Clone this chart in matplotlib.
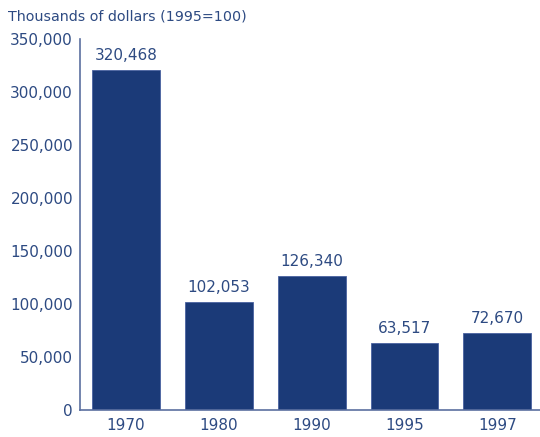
import matplotlib
matplotlib.use("Agg")
import matplotlib.pyplot as plt
from matplotlib.ticker import FuncFormatter

years = ["1970", "1980", "1990", "1995", "1997"]
values = [320468, 102053, 126340, 63517, 72670]
yticks = [0, 50000, 100000, 150000, 200000, 250000, 300000, 350000]

bar_color = "#1b3a78"
text_color = "#2d4a82"
spine_color = "#5b6fa0"

plt.rcParams['font.family'] = ['DejaVu Sans']

fig = plt.figure(figsize=(5.4, 4.37), dpi=100)
ax = fig.add_axes([80/540, 27/437, 460/540, 371/437])

x = list(range(len(years)))
bars = ax.bar(x, values, width=0.73, color=bar_color, edgecolor="#4a62a0", linewidth=0.6, zorder=2)
for xi, v in zip(x, values):
    ax.text(xi, v + 6500, f"{v:,}", ha="center", va="bottom", fontsize=11, color=text_color)

ax.set_xlim(-0.495, 4.46)
ax.set_ylim(0, 350000)
ax.set_yticks(yticks)
ax.yaxis.set_major_formatter(FuncFormatter(lambda v, p: f"{int(v):,}"))
ax.set_xticks(x)
ax.set_xticklabels(years)
ax.tick_params(axis="both", length=0, labelsize=11, labelcolor=text_color)
ax.tick_params(axis="y", pad=5)
ax.tick_params(axis="x", pad=6)

for s in ["top", "right"]:
    ax.spines[s].set_visible(False)
for s in ["left", "bottom"]:
    ax.spines[s].set_color(spine_color)
    ax.spines[s].set_linewidth(1.2)

fig.text(8/540, 1 - 16/437, "Thousands of dollars (1995=100)", fontsize=10.3, color=text_color, ha="left", va="center")

fig.savefig("out.png", dpi=100)
